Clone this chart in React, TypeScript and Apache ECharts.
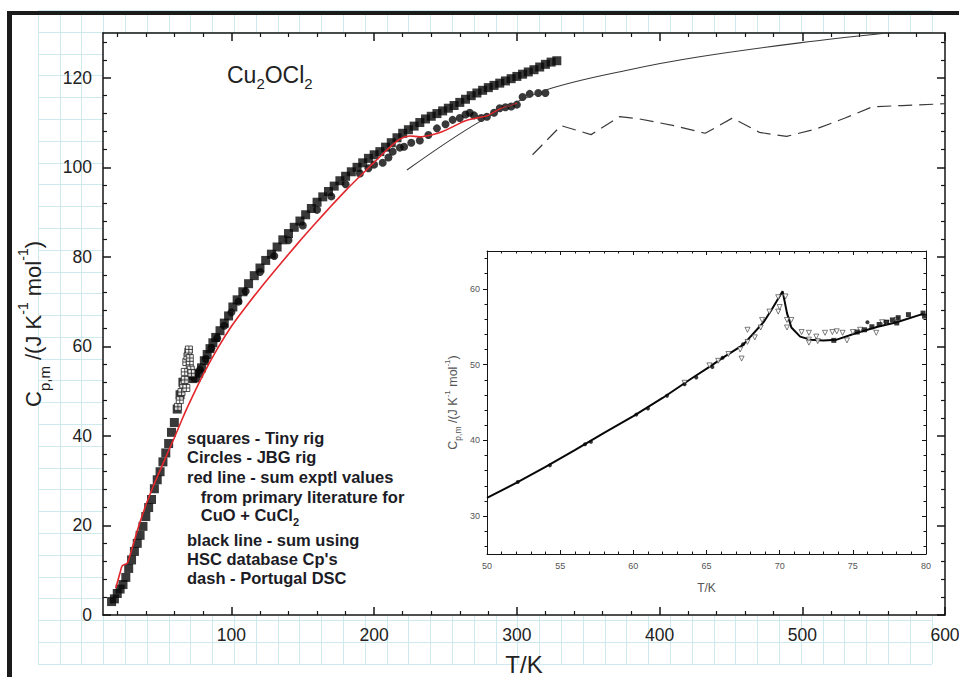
import React, { useEffect, useRef } from 'react';
import * as echarts from 'echarts';

// ---------- data ----------
// Main chart: T / K vs Cp,m / (J K-1 mol-1)
const tinyRigSquares: [number, number][] = [
  [16, 3.0], [18, 3.6], [20, 4.8], [22, 5.8], [24, 6.8], [26, 8.4], [28, 10.4], [30, 12.3], [32, 14.2],
  [34, 16.0], [36, 17.8], [38, 19.8], [40, 22.0], [42, 24.0], [44, 25.8], [46, 28.2], [48, 30.2],
  [50, 32.0], [52, 34.2], [54, 36.2], [56, 38.3], [58, 40.8], [60, 43.0], [62, 46.0], [64, 49.2],
  [66, 52.0], [73, 52.8], [75, 53.0], [77, 54.0], [79, 55.2], [81, 56.8], [83, 58.2], [85, 59.5],
  [87, 60.8], [89, 62.0], [92, 63.5], [95, 65.2], [98, 66.8], [101, 68.8], [104, 70.4], [108, 72.2],
  [112, 74.0], [116, 75.8], [120, 77.5], [124, 79.2], [128, 80.6], [132, 82.2], [136, 83.8],
  [140, 85.2], [144, 86.6], [148, 88.0], [152, 89.4], [156, 90.8], [160, 92.2], [164, 93.4],
  [168, 94.6], [172, 95.8], [176, 97.0], [180, 98.0], [184, 99.0], [188, 100.0], [192, 101.0],
  [196, 102.0], [200, 102.8], [204, 103.5], [208, 104.5], [212, 105.5], [216, 106.6], [220, 107.6],
  [224, 108.4], [228, 109.2], [232, 110.0], [236, 110.8], [240, 111.4], [244, 112.0], [248, 112.6],
  [252, 113.2], [256, 113.8], [260, 114.5], [264, 115.2], [268, 116.0], [272, 116.6], [276, 117.2],
  [280, 117.8], [284, 118.3], [288, 118.8], [292, 119.3], [296, 119.8], [300, 120.3], [304, 120.8],
  [308, 121.3], [312, 121.8], [316, 122.4], [320, 123.0], [324, 123.5], [328, 123.8],
];
const tinyRigPeakOpen: [number, number][] = [
  [62.5, 46.5], [63.8, 48.0], [65.0, 49.8], [66.2, 51.5], [67.3, 52.5], [68.4, 50.7], [67.3, 54.3],
  [68.4, 56.5], [69.2, 57.8], [69.8, 58.8], [70.2, 59.3], [70.8, 57.4], [70.8, 55.9], [71.5, 54.8],
  [72.0, 54.0],
];
const jbgRigCircles: [number, number][] = [
  [72, 53.4], [75, 53.8], [78, 54.8], [82, 57.2], [86, 59.6], [90, 61.8], [95, 64.6], [100, 67.6],
  [105, 70.0], [110, 72.3], [120, 76.6], [130, 80.2], [140, 83.7], [150, 87.0], [160, 90.5],
  [170, 93.5], [180, 96.2], [190, 98.6], [196, 99.8], [200, 100.6], [206, 101.0], [210, 102.2],
  [213, 103.5], [218, 104.4], [221, 104.6], [226, 105.5], [232, 106.0], [238, 107.2], [244, 108.7],
  [250, 109.6], [255, 110.6], [260, 111.0], [264, 111.8], [267, 112.2], [270, 111.6], [275, 111.0],
  [279, 111.3], [284, 112.2], [288, 113.2], [292, 113.4], [296, 113.6], [300, 114.0], [304, 115.7],
  [309, 116.4], [315, 116.6], [320, 116.6],
];
const literatureSumRed: [number, number][] = [
  [19, 6.0], [22, 9.5], [23.5, 11.0], [27, 11.6], [30, 14.5], [35, 19.8], [40, 24.5], [45, 28.6],
  [50, 32.3], [55, 36.0], [60, 39.6], [65, 43.4], [70, 47.0], [80, 53.6], [90, 59.4], [100, 64.5],
  [110, 68.8], [120, 72.9], [130, 76.8], [140, 80.6], [150, 84.3], [160, 87.9], [170, 91.4],
  [180, 94.8], [190, 98.0], [200, 101.1], [210, 104.2], [218, 106.3], [225, 107.0], [232, 106.8],
  [240, 107.2], [248, 108.0], [256, 109.2], [264, 110.4], [272, 111.0], [280, 111.6], [288, 113.0],
  [295, 113.8], [300, 114.4],
];
const hscSumBlack: [number, number][] = [
  [223, 99.4], [274, 110.2], [318, 117.0], [379, 121.8], [428, 124.7], [498, 127.8], [559, 130.0],
  [600, 131.2],
];
const portugalDscDash: [number, number][] = [
  [311, 102.8], [331, 109.3], [352, 107.3], [372, 111.3], [386, 110.8], [410, 109.3], [432, 107.6],
  [451, 111.0], [470, 107.8], [489, 106.9], [510, 108.6], [530, 111.0], [549, 113.5], [570, 113.8],
  [600, 114.2],
];

// Inset: 50-80 K detail
const insetLine: [number, number][] = [
  [50, 32.4], [52, 34.4], [54, 36.5], [56, 38.7], [58, 41.0], [60, 43.2], [62, 45.6], [64, 48.2],
  [65.2, 49.7], [66.1, 50.9], [67.5, 52.6], [68.9, 55.6], [69.5, 57.4], [70.2, 59.7], [70.5, 56.8],
  [70.8, 54.9], [71.4, 53.7], [72.1, 53.3], [73, 53.2], [73.9, 53.3], [75.3, 54.2], [76.7, 55.0],
  [78, 55.6], [79.8, 56.7],
];
const insetDots: [number, number][] = [
  [52.1, 34.5], [54.3, 36.7], [56.7, 39.5], [57.1, 39.8], [60.2, 43.4], [61, 44.2], [62.3, 45.9],
  [63.5, 47.4], [64.3, 48.3], [65.4, 49.7], [66.1, 50.9], [67.5, 52.7], [76, 55.6],
];
const insetTriangles: [number, number][] = [
  [63.5, 47.6], [65.2, 49.9], [65.8, 50.5], [66.5, 51.4], [67.3, 52.0], [67.4, 50.8], [67.8, 53.0],
  [68.3, 53.6], [67.8, 54.6], [68.7, 54.9], [68.8, 55.9], [69.3, 57.0], [69.9, 57.0], [70.0, 57.6],
  [70.4, 59.0], [69.9, 58.9], [70.5, 55.9], [70.8, 55.9], [70.5, 54.9], [71.5, 54.3], [72.0, 54.2],
  [72.0, 53.3], [72.0, 52.9], [72.5, 53.7], [72.6, 53.1], [73.1, 54.2], [73.6, 54.3], [73.9, 54.4],
  [74.3, 54.2], [74.6, 53.2], [75.0, 54.3], [75.5, 54.6], [76.6, 54.2], [77.0, 55.6], [77.3, 55.5],
  [78.0, 55.9],
];
const insetSquares: [number, number][] = [
  [73.7, 53.2], [75.3, 54.3], [75.8, 54.6], [76.3, 55.0], [76.8, 55.3], [77.3, 55.6], [77.7, 55.9],
  [78.0, 55.5], [78.1, 56.2], [78.8, 56.6], [79.8, 56.8], [79.9, 56.4],
];

// tick labels
const mainXTicks = [100, 200, 300, 400, 500, 600];
const mainYTicks = [0, 20, 40, 60, 80, 100, 120];
const insetXTicks = [50, 55, 60, 65, 70, 75, 80];
const insetYTicks = [30, 40, 50, 60];

const legendLines = [
  'squares - Tiny rig',
  'Circles - JBG rig',
  'red line - sum exptl values',
  '   from primary literature for',
  '   CuO + CuCl{s|2}',
  'black line - sum using',
  'HSC database Cp\'s',
  'dash - Portugal DSC',
];

// ---------- helpers ----------
const FONT = "'Liberation Sans', Arial, Helvetica, sans-serif";
const INK = '#080808';
const AXIS_INK = '#151515';

function range(a: number, b: number, s: number) {
  const r: number[] = [];
  for (let v = a; v <= b + 1e-9; v += s) r.push(+v.toFixed(4));
  return r;
}

function tickAxis(o: {
  grid: number; pos: string; min: number; max: number; ticks: number[]; len: number;
  inside: boolean; width: number; line?: boolean; label?: any; name?: string; nameGap?: number;
  nameStyle?: any;
}) {
  return {
    type: 'value',
    gridIndex: o.grid,
    position: o.pos,
    min: o.min,
    max: o.max,
    z: 3,
    axisLine: { show: !!o.line, onZero: false, lineStyle: { color: AXIS_INK, width: o.width } },
    axisTick: {
      show: true, inside: o.inside, length: o.len, customValues: o.ticks,
      lineStyle: { color: AXIS_INK, width: o.width },
    },
    axisLabel: o.label ? { show: true, customValues: o.ticks, ...o.label } : { show: false },
    splitLine: { show: false },
    name: o.name,
    nameLocation: 'middle',
    nameGap: o.nameGap,
    nameTextStyle: o.nameStyle,
  };
}

const mainXMinor = range(20, 580, 20).filter((v) => v % 100 !== 0);
const mainYMinor = range(4, 128, 4).filter((v) => v % 20 !== 0);
const insetXMinor = range(51, 79, 1).filter((v) => v % 5 !== 0);
const insetYMinor = range(26, 64, 2).filter((v) => v % 10 !== 0);

const MX = [10, 600];
const MY = [0, 130];
const IX = [50, 80];
const IY = [25, 65];

const mainLabel = { fontSize: 17.5, color: '#222', fontFamily: FONT, margin: 11 };
const insetLabel = { fontSize: 9, color: '#555', fontFamily: FONT };

function cpRich(main: number, sub: number, sup: number, lh: number, color: string) {
  return {
    fontFamily: FONT,
    color,
    rich: {
      b: { fontSize: main, lineHeight: lh, fontFamily: FONT, color },
      sub: { fontSize: sub, lineHeight: sub, verticalAlign: 'bottom', fontFamily: FONT, color },
      sup: { fontSize: sup, lineHeight: Math.round(lh * 0.76), verticalAlign: 'top', fontFamily: FONT, color },
    },
  };
}
const cpName = '{b|C}{sub|p,m}{b| /(J K}{sup|-1}{b| mol}{sup|-1}{b|)}';

const xAxes = [
  // main
  tickAxis({ grid: 0, pos: 'bottom', min: MX[0], max: MX[1], ticks: mainXTicks, len: 8, inside: true, width: 1.5, line: true,
    label: mainLabel, name: 'T/K', nameGap: 37, nameStyle: { fontSize: 24, color: '#222', fontFamily: FONT } }),
  tickAxis({ grid: 0, pos: 'bottom', min: MX[0], max: MX[1], ticks: mainXMinor, len: 4, inside: true, width: 1.2 }),
  tickAxis({ grid: 0, pos: 'top', min: MX[0], max: MX[1], ticks: mainXTicks, len: 8, inside: true, width: 1.5, line: true }),
  tickAxis({ grid: 0, pos: 'top', min: MX[0], max: MX[1], ticks: mainXMinor, len: 4, inside: true, width: 1.2 }),
  // inset
  tickAxis({ grid: 1, pos: 'bottom', min: IX[0], max: IX[1], ticks: insetXTicks, len: 4, inside: true, width: 1, line: true,
    label: { ...insetLabel, margin: 7 }, name: 'T/K', nameGap: 28, nameStyle: { fontSize: 12, color: '#555', fontFamily: FONT } }),
  tickAxis({ grid: 1, pos: 'bottom', min: IX[0], max: IX[1], ticks: insetXMinor, len: 2.5, inside: true, width: 1 }),
  tickAxis({ grid: 1, pos: 'top', min: IX[0], max: IX[1], ticks: insetXTicks, len: 4, inside: true, width: 1, line: true }),
  tickAxis({ grid: 1, pos: 'top', min: IX[0], max: IX[1], ticks: insetXMinor, len: 2.5, inside: true, width: 1 }),
  // graph-paper background
  {
    type: 'value', gridIndex: 2, min: 0, max: 41, interval: 1, z: 0, silent: true,
    axisLine: { show: false }, axisTick: { show: false }, axisLabel: { show: false },
    splitLine: { show: true, lineStyle: { color: '#cfeaee', width: 1 } },
  },
];

const yAxes = [
  // main
  tickAxis({ grid: 0, pos: 'left', min: MY[0], max: MY[1], ticks: mainYTicks, len: 8, inside: true, width: 1.5, line: true,
    label: mainLabel, name: cpName, nameGap: 50, nameStyle: cpRich(22, 15, 14, 36, '#222') }),
  tickAxis({ grid: 0, pos: 'left', min: MY[0], max: MY[1], ticks: mainYMinor, len: 4, inside: true, width: 1.2 }),
  tickAxis({ grid: 0, pos: 'right', min: MY[0], max: MY[1], ticks: mainYTicks, len: 8, inside: true, width: 1.5, line: true }),
  tickAxis({ grid: 0, pos: 'right', min: MY[0], max: MY[1], ticks: mainYMinor, len: 4, inside: true, width: 1.2 }),
  // inset
  tickAxis({ grid: 1, pos: 'left', min: IY[0], max: IY[1], ticks: insetYTicks, len: 4, inside: false, width: 1, line: true,
    label: { ...insetLabel, margin: 7 }, name: cpName, nameGap: 25, nameStyle: cpRich(12.5, 8.5, 8, 19, '#555') }),
  tickAxis({ grid: 1, pos: 'left', min: IY[0], max: IY[1], ticks: insetYMinor, len: 2.5, inside: false, width: 1 }),
  tickAxis({ grid: 1, pos: 'right', min: IY[0], max: IY[1], ticks: insetYTicks, len: 4, inside: true, width: 1, line: true }),
  tickAxis({ grid: 1, pos: 'right', min: IY[0], max: IY[1], ticks: insetYMinor, len: 2.5, inside: true, width: 1 }),
  // graph-paper background
  {
    type: 'value', gridIndex: 2, min: 0, max: 30, interval: 1, z: 0, silent: true,
    axisLine: { show: false }, axisTick: { show: false }, axisLabel: { show: false },
    splitLine: { show: true, lineStyle: { color: '#cfeaee', width: 1 } },
  },
];

const openSquareCross = 'path://M0,0H10V10H0ZM5,0V10M0,5H10';
const downTriangle = 'path://M0,0H10L5,9Z';

const series: any[] = [
  {
    name: 'squares - Tiny rig', type: 'scatter', xAxisIndex: 0, yAxisIndex: 0, z: 2,
    symbol: 'rect', symbolSize: 9, itemStyle: { color: INK }, data: tinyRigSquares,
  },
  {
    name: 'Circles - JBG rig', type: 'scatter', xAxisIndex: 0, yAxisIndex: 0, z: 2,
    symbol: 'circle', symbolSize: 8, itemStyle: { color: INK }, data: jbgRigCircles,
  },
  {
    name: 'squares - Tiny rig (transition)', type: 'scatter', xAxisIndex: 0, yAxisIndex: 0, z: 3,
    symbol: openSquareCross, symbolSize: 7,
    itemStyle: { color: '#fff', borderColor: '#222', borderWidth: 1 }, data: tinyRigPeakOpen,
  },
  {
    name: 'red line', type: 'line', xAxisIndex: 0, yAxisIndex: 0, z: 4, smooth: 0.3,
    symbol: 'none', lineStyle: { color: '#e3262b', width: 1.6 }, data: literatureSumRed,
  },
  {
    name: 'black line', type: 'line', xAxisIndex: 0, yAxisIndex: 0, z: 4, smooth: 0.35,
    symbol: 'none', lineStyle: { color: '#3a3a3a', width: 1.1 }, data: hscSumBlack,
  },
  {
    name: 'dash', type: 'line', xAxisIndex: 0, yAxisIndex: 0, z: 4,
    symbol: 'none', lineStyle: { color: '#3a3a3a', width: 1.2, type: [14, 7] }, data: portugalDscDash,
  },
  // inset
  {
    name: 'inset line', type: 'line', xAxisIndex: 4, yAxisIndex: 4, z: 5,
    symbol: 'none', lineStyle: { color: INK, width: 2 }, data: insetLine,
  },
  {
    name: 'inset triangles', type: 'scatter', xAxisIndex: 4, yAxisIndex: 4, z: 6,
    symbol: downTriangle, symbolSize: 5,
    itemStyle: { color: '#fff', borderColor: '#333', borderWidth: 0.8 }, data: insetTriangles,
  },
  {
    name: 'inset dots', type: 'scatter', xAxisIndex: 4, yAxisIndex: 4, z: 6,
    symbol: 'circle', symbolSize: 4, itemStyle: { color: INK }, data: insetDots,
  },
  {
    name: 'inset squares', type: 'scatter', xAxisIndex: 4, yAxisIndex: 4, z: 6,
    symbol: 'rect', symbolSize: 5, itemStyle: { color: INK }, data: insetSquares,
  },
];

const legendY = [438, 457, 477, 497, 515, 540, 559, 578];
const legendX = [187, 187, 187, 187, 187, 187, 187, 187];

const graphic: any[] = [
  // black frame bars
  { type: 'rect', z: 100, shape: { x: 7, y: 11, width: 952, height: 4 }, style: { fill: '#1b1b1b' } },
  { type: 'rect', z: 100, shape: { x: 7, y: 11, width: 5, height: 666 }, style: { fill: '#1b1b1b' } },
  // formula label
  {
    type: 'text', z: 50, x: 227, y: 59,
    style: {
      text: '{a|Cu}{s|2}{a|OCl}{s|2}', align: 'left', verticalAlign: 'top', fill: '#222',
      rich: {
        a: { fontSize: 23, lineHeight: 32, fontFamily: FONT, fill: '#222' },
        s: { fontSize: 15, lineHeight: 14, verticalAlign: 'bottom', fontFamily: FONT, fill: '#222' },
      },
    },
  },
  ...legendLines.map((t, i) => ({
    type: 'text', z: 50, x: legendX[i], y: legendY[i],
    style: {
      text: t, align: 'left', verticalAlign: 'middle', fill: '#1c1c26',
      fontSize: 16.5, fontWeight: 'bold', fontFamily: FONT,
      rich: {
        s: { fontSize: 11, fontWeight: 'bold', fontFamily: FONT, fill: '#1c1c26', verticalAlign: 'bottom', lineHeight: 11, padding: [0, 0, -4, 0] },
      },
    },
  })),
];

const option: any = {
  animation: false,
  backgroundColor: '#fff',
  grid: [
    { left: 103, top: 33, width: 842, height: 582, show: true, backgroundColor: '#fff', borderWidth: 0, z: 1, containLabel: false, outerBoundsMode: 'none' },
    { left: 487, top: 251, width: 439, height: 303, containLabel: false, outerBoundsMode: 'none' },
    { left: 38, top: 10.3, width: 893.8, height: 653.7, containLabel: false, outerBoundsMode: 'none' },
  ],
  xAxis: xAxes,
  yAxis: yAxes,
  series,
  graphic,
};

export default function App() {
  const ref = useRef<HTMLDivElement>(null);
  useEffect(() => {
    document.body.style.margin = '0';
    const chart = echarts.init(ref.current!, null, { renderer: 'svg', width: 959, height: 677 });
    chart.setOption(option);
    return () => chart.dispose();
  }, []);
  return (
    <div
      ref={ref}
      style={{ position: 'absolute', left: 0, top: 0, width: 959, height: 677, background: '#fff' }}
    />
  );
}
